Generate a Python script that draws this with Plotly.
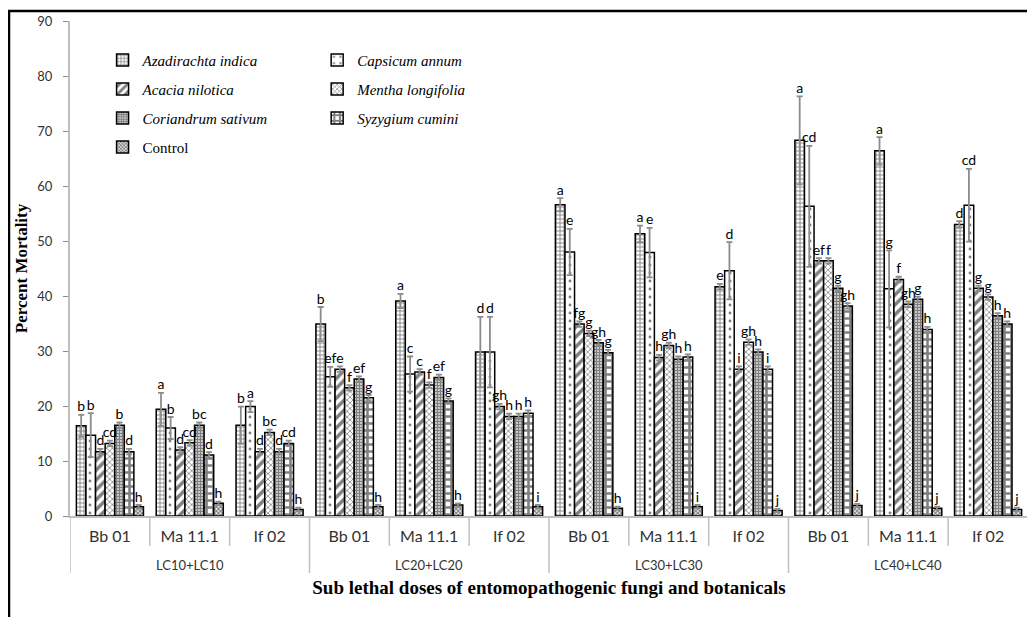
import plotly.graph_objects as go

# ---------------- data ----------------
doses = ["LC10+LC10"] * 3 + ["LC20+LC20"] * 3 + ["LC30+LC30"] * 3 + ["LC40+LC40"] * 3
fungi = ["Bb 01", "Ma 11.1", "If 02"] * 4

series_names = ["Azadirachta indica", "Capsicum annum", "Acacia nilotica",
                "Mentha longifolia", "Coriandrum sativum", "Syzygium cumini", "Control"]

azadirachta = [16.4, 19.4, 16.5, 34.9, 39.1, 29.8, 56.6, 51.3, 41.7, 68.3, 66.4, 53.0]
capsicum    = [14.7, 16.0, 19.9, 25.3, 25.8, 29.8, 48.0, 47.9, 44.6, 56.3, 41.3, 56.5]
acacia      = [11.7, 12.0, 11.7, 26.7, 26.2, 19.9, 34.9, 28.8, 26.7, 46.4, 43.0, 41.4]
mentha      = [13.2, 13.3, 15.2, 23.3, 23.8, 18.1, 33.2, 31.0, 31.6, 46.4, 38.5, 39.8]
coriandrum  = [16.5, 16.5, 11.7, 24.9, 25.2, 18.1, 31.5, 28.5, 29.8, 41.4, 39.4, 36.4]
syzygium    = [11.7, 11.1, 13.2, 21.5, 20.9, 18.7, 29.7, 28.9, 26.7, 38.2, 33.9, 34.9]
control     = [1.7, 2.3, 1.2, 1.7, 2.0, 1.7, 1.4, 1.7, 1.0, 1.9, 1.4, 1.2]

azadirachta_err = [2.0, 3.0, 3.4, 3.1, 1.3, 6.4, 1.2, 1.5, 0.5, 8.0, 2.5, 0.6]
capsicum_err    = [4.0, 2.0, 1.0, 1.8, 3.2, 6.4, 4.2, 4.5, 5.2, 11.0, 7.0, 6.6]
acacia_err      = [0.5] * 12
mentha_err      = [0.5] * 12
coriandrum_err  = [0.5] * 12
syzygium_err    = [0.5] * 12
control_err     = [0.3] * 12

azadirachta_lbl = ["b", "a", "b", "b", "a", "d", "a", "a", "e", "a", "a", "d"]
capsicum_lbl    = ["b", "b", "a", "ef", "c", "d", "e", "e", "d", "cd", "g", "cd"]
acacia_lbl      = ["d", "d", "d", "e", "c", "gh", "fg", "h", "i", "ef", "f", "g"]
mentha_lbl      = ["cd", "cd", "bc", "f", "f", "h", "g", "gh", "gh", "f", "gh", "g"]
coriandrum_lbl  = ["b", "bc", "d", "ef", "ef", "h", "gh", "h", "h", "g", "g", "h"]
syzygium_lbl    = ["d", "d", "cd", "g", "g", "h", "g", "h", "i", "gh", "h", "h"]
control_lbl     = ["h", "h", "h", "h", "h", "i", "h", "i", "j", "j", "j", "j"]

values = [azadirachta, capsicum, acacia, mentha, coriandrum, syzygium, control]
errors = [azadirachta_err, capsicum_err, acacia_err, mentha_err, coriandrum_err, syzygium_err, control_err]
labels = [azadirachta_lbl, capsicum_lbl, acacia_lbl, mentha_lbl, coriandrum_lbl, syzygium_lbl, control_lbl]

# ---------------- styles ----------------
patterns = [
    dict(shape="+", size=4, solidity=0.4),
    dict(shape=".", size=8, solidity=0.1),
    dict(shape="/", size=7, solidity=0.5),
    dict(shape="x", size=4, solidity=0.35),
    dict(shape="+", size=3, solidity=0.75),
    dict(shape="+", size=7, solidity=0.6),
    dict(shape="x", size=3, solidity=0.65),
]
legend_refs = ["legend", "legend2", "legend", "legend2", "legend", "legend2", "legend"]
italic = [True, True, True, True, True, True, False]

xpos = list(range(len(fungi)))
GAP = 0.16

fig = go.Figure()
for i, name in enumerate(series_names):
    pat = dict(patterns[i])
    pat.update(fgcolor="black", bgcolor="white", fillmode="overlay")
    fig.add_trace(go.Bar(
        x=xpos, y=values[i], name=f"<i>{name}</i>" if italic[i] else name,
        offsetgroup=str(i),
        marker=dict(color="white", pattern=pat, line=dict(color="black", width=1.5)),
        error_y=dict(type="data", array=errors[i], color="#8c8c8c", thickness=1.8, width=3),
        legend=legend_refs[i], legendgroup=str(i),
    ))
for i, name in enumerate(series_names):
    fig.add_trace(go.Scatter(
        x=xpos, y=[v + e for v, e in zip(values[i], errors[i])],
        mode="text", text=labels[i], textposition="top center",
        textfont=dict(family="Lato", size=14, color="black"),
        offsetgroup=str(i), showlegend=False, cliponaxis=False, hoverinfo="skip",
    ))

# page has an 8px body margin: figure fills the rest of the 1035x617 window
W, H = 1027, 609
ML, MR, MT, MB = 62, 7, 13, 101
pw, ph = W - ML - MR, H - MT - MB

shapes = []
annotations = []
n = len(fungi)
# dividers between inner categories (short) and dose groups (long)
for k in range(n + 1):
    new_group = k == 0 or k == n or doses[k] != doses[k - 1]
    shapes.append(dict(type="line", xref="x", yref="paper", x0=k - 0.5, x1=k - 0.5,
                       y0=0, y1=(-57 if new_group else -30) / ph,
                       line=dict(color="#bfbfbf", width=1.5)))
# dose group labels
groups = []
for k, d in enumerate(doses):
    if not groups or groups[-1][0] != d:
        groups.append([d, []])
    groups[-1][1].append(k)
for d, idx in groups:
    annotations.append(dict(text=d, x=sum(idx) / len(idx), xref="x", y=-49 / ph, yref="paper",
                            showarrow=False, xanchor="center", yanchor="middle",
                            font=dict(family="Lato", size=13, color="#333333")))
# outer frame (left and top edges visible)
shapes.append(dict(type="rect", xref="paper", yref="paper",
                   x0=(1 - ML) / pw, x1=(W + 20 - ML) / pw,
                   y0=(H - MB - 700) / ph, y1=(H - MB - 3) / ph,
                   line=dict(color="black", width=2.5), layer="above"))

legend_common = dict(bgcolor="rgba(0,0,0,0)", borderwidth=0, orientation="v",
                     tracegroupgap=6.5, itemwidth=30,
                     font=dict(family="Liberation Serif", size=15, color="black"),
                     xanchor="left", yanchor="top")

fig.update_layout(
    width=W, height=H,
    margin=dict(l=ML, r=MR, t=MT, b=MB, autoexpand=False),
    paper_bgcolor="white", plot_bgcolor="white",
    barmode="group", bargap=GAP, bargroupgap=0,
    scattermode="group", scattergap=GAP,
    showlegend=True,
    legend=dict(x=0.034, y=0.954, **legend_common),
    legend2=dict(x=0.258, y=0.954, **legend_common),
    font=dict(family="Lato", size=12, color="#333333"),
    shapes=shapes,
    annotations=annotations,
    xaxis=dict(
        range=[-0.5, n - 0.5], tickmode="array", tickvals=xpos, ticktext=fungi,
        showline=True, linecolor="#bfbfbf", linewidth=1.5, ticks="",
        tickfont=dict(family="Lato", size=16, color="#333333"),
        ticklabelstandoff=5,
        title=dict(text="<b>Sub lethal doses of entomopathogenic fungi and botanicals</b>",
                   font=dict(family="Liberation Serif", size=19, color="black"), standoff=37),
        showgrid=False, zeroline=False, automargin=False,
    ),
    yaxis=dict(
        range=[0, 90], dtick=10, showline=True, linecolor="#bfbfbf", linewidth=2,
        ticks="outside", ticklen=5, tickcolor="#8c8c8c", showgrid=False, zeroline=False,
        tickfont=dict(family="Lato", size=13, color="#333333"), ticklabelstandoff=8,
        title=dict(text="<b>Percent Mortality</b>",
                   font=dict(family="Liberation Serif", size=17, color="black"), standoff=5),
        automargin=False,
    ),
)

fig.write_html("out.html")
